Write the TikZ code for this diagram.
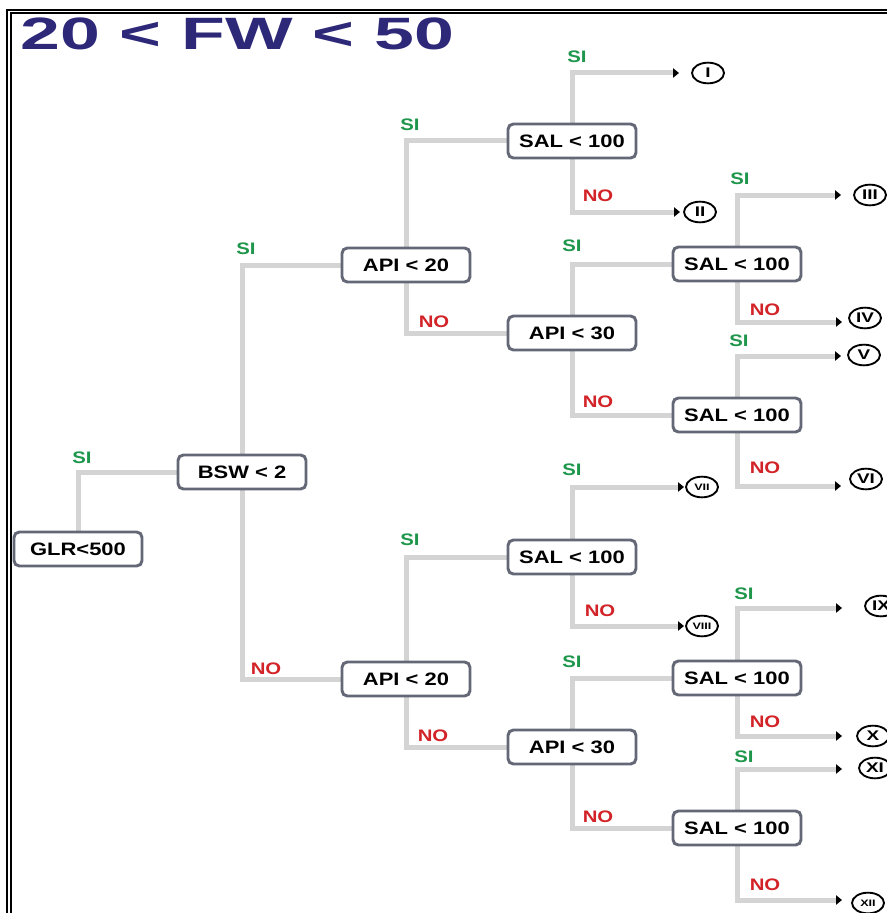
\documentclass[tikz,border=0pt]{standalone}
\usepackage{fontspec}
\setmainfont{Liberation Sans}
\newfontfamily\widefont[FakeStretch=1.22]{Liberation Sans}
\newfontfamily\numfont[FakeStretch=1.35]{Liberation Sans}
\newfontfamily\titlefont[FakeStretch=1.58]{Liberation Sans}
\usetikzlibrary{shapes.geometric,arrows.meta,backgrounds}
\definecolor{linegray}{RGB}{212,212,212}
\definecolor{boxedge}{RGB}{100,104,118}
\definecolor{sigreen}{RGB}{30,150,75}
\definecolor{nored}{RGB}{210,35,40}
\definecolor{titleblue}{RGB}{45,40,120}
\tikzset{
  box/.style={draw=boxedge, line width=2.2pt, rounded corners=4pt, fill=white,
    minimum width=96pt, minimum height=25.5pt, inner sep=0pt,
    font=\widefont\bfseries\fontsize{13.5}{14}\selectfont},
  res/.style={ellipse, draw=black, line width=1.4pt, fill=white, inner sep=0pt,
    minimum width=24pt, minimum height=15.5pt,
    font=\numfont\bfseries\fontsize{10.5}{10.5}\selectfont},
  ressmall/.style={res, font=\numfont\bfseries\fontsize{7}{7}\selectfont},
  conn/.style={draw=linegray, line width=3.75pt},
  tipconn/.style={conn, -{Triangle[color=black,length=4.5pt,width=7pt]}},
  silab/.style={text=sigreen, inner sep=0pt, font=\widefont\bfseries\fontsize{12.5}{13}\selectfont},
  nolab/.style={text=nored, inner sep=0pt, font=\widefont\bfseries\fontsize{12.5}{13}\selectfont},
}
\begin{document}
\begin{tikzpicture}[x=0.75pt,y=-0.75pt]
\useasboundingbox (0,0) rectangle (887,913);
\clip (0,0) rectangle (887,913);
% frame
\draw[line width=1.5pt] (7,920) -- (7,10) -- (895,10);
\draw[line width=1.5pt] (10.6,920) -- (10.6,12.9) -- (895,12.9);
% title
\node[anchor=base west, inner sep=0pt, text=titleblue, font=\titlefont\bfseries\fontsize{34}{34}\selectfont] (title) at (20,50) {20 < FW < 50};
% decision boxes
\node[box] (glr) at (78,549) {GLR<500};
\node[box] (bsw) at (242,472) {BSW < 2};
\node[box] (apiA) at (406,265) {API < 20};
\node[box] (salA) at (572,141) {SAL < 100};
\node[box] (apiC) at (572,333) {API < 30};
\node[box] (salB) at (737,264) {SAL < 100};
\node[box] (salC) at (737,415) {SAL < 100};
\node[box] (salD) at (572,557) {SAL < 100};
\node[box] (apiB) at (406,679) {API < 20};
\node[box] (apiD) at (572,747) {API < 30};
\node[box] (salE) at (737,678) {SAL < 100};
\node[box] (salF) at (737,828) {SAL < 100};
% results
\node[res] (r1) at (708,73) {I};
\node[res] (r2) at (700,212) {II};
\node[res] (r3) at (870,195) {III};
\node[res] (r4) at (865,318) {IV};
\node[res] (r5) at (864,355) {V};
\node[res] (r6) at (866,479) {VI};
\node[ressmall] (r7) at (702,487) {VII};
\node[ressmall] (r8) at (702,626) {VIII};
\node[res] (r9) at (881,606) {IX};
\node[res] (r10) at (873,736) {X};
\node[res] (r11) at (875,768) {XI};
\node[ressmall] (r12) at (868,903) {XII};
% arrow end points
\coordinate (t1) at (679,73);
\coordinate (t2) at (680,212);
\coordinate (t3) at (841,195);
\coordinate (t4) at (842,322);
\coordinate (t5) at (841,356);
\coordinate (t6) at (841,486);
\coordinate (t7) at (684,487);
\coordinate (t8) at (684,626);
\coordinate (t9) at (842,608);
\coordinate (t10) at (842,736);
\coordinate (t11) at (842,769);
\coordinate (t12) at (842,900);
\begin{scope}[on background layer]
\draw[conn] (glr.north) |- (bsw.west);
\draw[conn] (bsw.north) |- (apiA.west);
\draw[conn] (bsw.south) |- (apiB.west);
\draw[conn] (apiA.north) |- (salA.west);
\draw[conn] (apiA.south) |- (apiC.west);
\draw[conn] (apiC.north) |- (salB.west);
\draw[conn] (apiC.south) |- (salC.west);
\draw[conn] (apiB.north) |- (salD.west);
\draw[conn] (apiB.south) |- (apiD.west);
\draw[conn] (apiD.north) |- (salE.west);
\draw[conn] (apiD.south) |- (salF.west);
\draw[tipconn] (salA.north) |- (t1);
\draw[tipconn] (salA.south) |- (t2);
\draw[tipconn] (salB.north) |- (t3);
\draw[tipconn] (salB.south) |- (t4);
\draw[tipconn] (salC.north) |- (t5);
\draw[tipconn] (salC.south) |- (t6);
\draw[tipconn] (salD.north) |- (t7);
\draw[tipconn] (salD.south) |- (t8);
\draw[tipconn] (salE.north) |- (t9);
\draw[tipconn] (salE.south) |- (t10);
\draw[tipconn] (salF.north) |- (t11);
\draw[tipconn] (salF.south) |- (t12);
\end{scope}
% labels
\node[silab] (l1) at (82,458) {SI};
\node[silab] (l2) at (246,249) {SI};
\node[nolab] (l3) at (266,669) {NO};
\node[silab] (l4) at (410,125) {SI};
\node[nolab] (l5) at (434,322) {NO};
\node[silab] (l6) at (577,57) {SI};
\node[nolab] (l7) at (598,196) {NO};
\node[silab] (l8) at (572,246) {SI};
\node[nolab] (l9) at (598,402) {NO};
\node[silab] (l10) at (740,179) {SI};
\node[nolab] (l11) at (765,310) {NO};
\node[silab] (l12) at (739,341) {SI};
\node[nolab] (l13) at (765,468) {NO};
\node[silab] (l14) at (572,470) {SI};
\node[nolab] (l15) at (600,611) {NO};
\node[silab] (l16) at (410,540) {SI};
\node[nolab] (l17) at (433,736) {NO};
\node[silab] (l18) at (572,662) {SI};
\node[nolab] (l19) at (598,817) {NO};
\node[silab] (l20) at (744,594) {SI};
\node[nolab] (l21) at (765,722) {NO};
\node[silab] (l22) at (744,757) {SI};
\node[nolab] (l23) at (765,885) {NO};
\end{tikzpicture}
\end{document}
